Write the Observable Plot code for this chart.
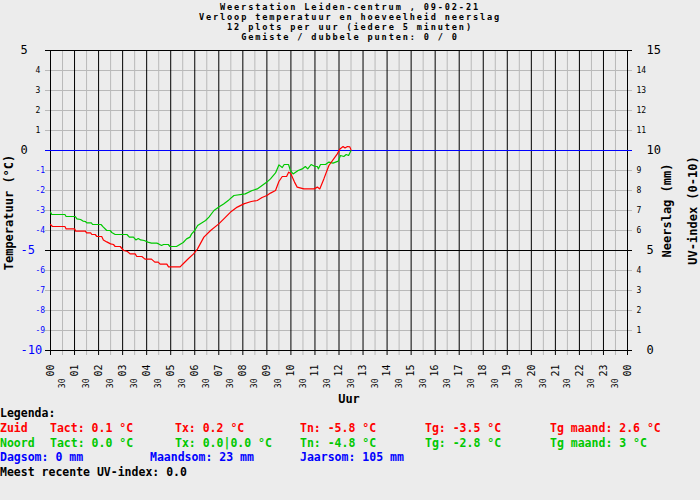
<!DOCTYPE html>
<html><head><meta charset="utf-8">
<script src="https://cdn.jsdelivr.net/npm/d3@7"></script>
<script src="https://cdn.jsdelivr.net/npm/@observablehq/plot@0.6"></script>
<style>
body{margin:0;background:#ececec;width:700px;height:500px;overflow:hidden;position:relative;font-family:"DejaVu Sans Mono",monospace;font-weight:bold;color:#000;}
#title{position:absolute;top:2px;left:0;width:700px;text-align:center;font-size:8.6px;letter-spacing:1.85px;line-height:10px;}
#chart{position:absolute;top:40px;left:0;}
#legend{position:absolute;top:406px;left:0;width:700px;font-size:11.5px;}
.row{position:relative;height:14.8px;line-height:15px;}
.row span{position:absolute;white-space:pre;top:0;}
</style>
</head><body>
<div id="title"></div>
<div id="chart"></div>
<div id="legend"></div>
<script>
// ---- Data ----
const titleLines = ["Weerstation Leiden-centrum , 09-02-21","Verloop temperatuur en hoeveelheid neerslag","12 plots per uur (iedere 5 minuten)","Gemiste / dubbele punten: 0 / 0"];

const zuidHours = [0,0.08,0.6,0.65,1.0,1.05,1.45,1.5,1.67,1.72,1.86,1.93,2.13,2.2,2.34,2.5,2.62,2.69,2.9,3.04,3.2,3.31,3.52,3.59,3.8,3.93,4.2,4.34,4.48,4.56,4.84,4.91,5.39,5.53,5.74,5.95,6.11,6.38,6.66,7.0,7.21,7.49,7.77,8.04,8.35,8.6,8.8,9.0,9.15,9.36,9.5,9.64,9.82,9.91,10.0,10.15,10.26,10.54,10.96,11.1,11.2,11.37,11.58,11.78,11.93,12.04,12.17,12.25,12.35,12.45,12.5];
const zuidTemp = [-3.7,-3.8,-3.8,-3.92,-3.92,-4.03,-4.03,-4.12,-4.12,-4.2,-4.2,-4.3,-4.3,-4.47,-4.57,-4.67,-4.7,-4.8,-4.8,-5.0,-5.05,-5.17,-5.17,-5.3,-5.3,-5.43,-5.43,-5.58,-5.58,-5.68,-5.68,-5.82,-5.82,-5.65,-5.4,-5.17,-4.93,-4.33,-4.0,-3.67,-3.42,-3.08,-2.83,-2.67,-2.55,-2.5,-2.35,-2.25,-2.13,-2.0,-1.55,-1.3,-1.3,-1.08,-1.17,-1.58,-1.83,-1.92,-1.92,-1.83,-1.92,-1.42,-0.75,-0.42,-0.17,0.08,0.2,0.13,0.2,0.18,0.03];

const noordHours = [0,0.05,0.6,0.65,1.03,1.1,1.25,1.35,1.45,1.51,1.7,1.75,2.1,2.2,2.34,2.48,2.55,2.69,3.18,3.28,3.45,3.55,3.65,3.75,3.9,4.05,4.2,4.42,4.5,4.62,4.7,4.9,4.97,5.24,5.38,5.52,5.66,5.8,5.87,6.0,6.12,6.45,6.59,6.8,7.0,7.2,7.42,7.63,8.1,8.39,8.6,9.0,9.15,9.36,9.5,9.64,9.72,9.9,9.98,10.09,10.3,10.47,10.6,10.7,10.84,11.0,11.1,11.14,11.23,11.44,11.58,11.75,11.97,12.06,12.2,12.3,12.4,12.48,12.5];
const noordTemp = [-3.08,-3.2,-3.2,-3.3,-3.3,-3.42,-3.45,-3.53,-3.55,-3.62,-3.62,-3.7,-3.7,-3.83,-4.0,-4.0,-4.1,-4.2,-4.2,-4.33,-4.33,-4.47,-4.4,-4.47,-4.5,-4.58,-4.63,-4.63,-4.67,-4.75,-4.7,-4.7,-4.8,-4.8,-4.7,-4.6,-4.42,-4.33,-4.17,-4.0,-3.75,-3.5,-3.33,-3.0,-2.83,-2.67,-2.47,-2.25,-2.17,-2.0,-1.92,-1.58,-1.42,-1.12,-0.72,-0.85,-0.7,-0.7,-1.0,-1.17,-1.0,-0.92,-0.8,-0.92,-0.7,-0.8,-0.8,-0.92,-0.7,-0.7,-0.58,-0.63,-0.53,-0.25,-0.3,-0.2,-0.25,-0.05,0.0];

const hourTicks = d3.range(0, 25);
const hourLabels = ["00","01","02","03","04","05","06","07","08","09","10","11","12","13","14","15","16","17","18","19","20","21","22","23","00"];
const halfTicks = d3.range(0.5, 24, 1);
const halfLabel = "30";
const tempMinor = [-9,-8,-7,-6,-4,-3,-2,-1,1,2,3,4];
const tempMajor = [-10,-5,0,5];
const rainMinor = [1,2,3,4,6,7,8,9,11,12,13,14];
const rainMajor = [0,5,10,15];
const rainOffset = 10; // right axis value = temperature + 10

const legendRows = [
  {color:"#000", items:[[0,"Legenda:"]]},
  {color:"#ff0000", items:[[0,"Zuid"],[50,"Tact: 0.1 °C"],[175,"Tx: 0.2 °C"],[300,"Tn: -5.8 °C"],[425,"Tg: -3.5 °C"],[550,"Tg maand: 2.6 °C"]]},
  {color:"#00c800", items:[[0,"Noord"],[50,"Tact: 0.0 °C"],[175,"Tx: 0.0|0.0 °C"],[300,"Tn: -4.8 °C"],[425,"Tg: -2.8 °C"],[550,"Tg maand: 3 °C"]]},
  {color:"#0000ff", items:[[0,"Dagsom: 0 mm"],[150,"Maandsom: 23 mm"],[300,"Jaarsom: 105 mm"]]},
  {color:"#000", items:[[0,"Meest recente UV-index: 0.0"]]}
];

// ---- Title ----
document.getElementById("title").innerHTML = titleLines.map(t => `<div>${t}</div>`).join("");

// ---- Chart ----
const zuid = zuidHours.map((h, i) => ({h, t: zuidTemp[i]}));
const noord = noordHours.map((h, i) => ({h, t: noordTemp[i]}));
const mono = "DejaVu Sans Mono";
const gray = "#b9b9b9";
const tick = {fontWeight: "normal"};

const chart = Plot.plot({
  width: 700,
  height: 365,
  marginTop: 10,
  marginBottom: 55,
  marginLeft: 50,
  marginRight: 73,
  style: {background: "transparent", overflow: "visible", fontFamily: mono},
  x: {domain: [0, 24], axis: null},
  y: {domain: [-10, 5], axis: null},
  marks: [
    Plot.ruleX(halfTicks, {x: d => d, stroke: gray, insetBottom: -5}),
    Plot.ruleY(tempMinor, {y: d => d, stroke: gray, insetLeft: -5, insetRight: -5}),
    Plot.ruleX(hourTicks, {x: d => d, stroke: "#000", insetBottom: -5}),
    Plot.ruleY([-10, -5, 5], {y: d => d, stroke: "#000", insetLeft: -5, insetRight: -5}),
    Plot.ruleY([0], {y: d => d, stroke: "#0000ff", insetLeft: -5, insetRight: -5}),
    Plot.line(noord, {x: "h", y: "t", stroke: "#00c800", strokeWidth: 1.2}),
    Plot.line(zuid, {x: "h", y: "t", stroke: "#ff0000", strokeWidth: 1.2}),
    // left axis labels
    Plot.text(tempMinor.filter(d => d >= 0), {...tick, y: d => d, text: d => String(d), frameAnchor: "left", dx: -15, textAnchor: "start", fontSize: 8, fill: "#000"}),
    Plot.text(tempMinor.filter(d => d < 0), {...tick, y: d => d, text: d => String(d), frameAnchor: "left", dx: -15, textAnchor: "start", fontSize: 8, fill: "#0000ff"}),
    Plot.text(tempMajor.filter(d => d >= 0), {...tick, y: d => d, text: d => String(d), frameAnchor: "left", dx: -30, textAnchor: "start", fontSize: 12, fill: "#000"}),
    Plot.text(tempMajor.filter(d => d < 0), {...tick, y: d => d, text: d => String(d), frameAnchor: "left", dx: -30, textAnchor: "start", fontSize: 12, fill: "#0000ff"}),
    // right axis labels
    Plot.text(rainMinor, {...tick, y: d => d - rainOffset, text: d => String(d), frameAnchor: "right", dx: 9, textAnchor: "start", fontSize: 8, fill: "#000"}),
    Plot.text(rainMajor, {...tick, y: d => d - rainOffset, text: d => String(d), frameAnchor: "right", dx: 19, textAnchor: "start", fontSize: 12, fill: "#000"}),
    // x axis labels
    Plot.text(hourTicks, {...tick, x: d => d, text: (d, i) => hourLabels[i], frameAnchor: "bottom", rotate: -90, textAnchor: "end", lineAnchor: "middle", dy: 14, fontSize: 10, fill: "#000"}),
    Plot.text(halfTicks, {...tick, x: d => d, text: () => halfLabel, frameAnchor: "bottom", rotate: -90, textAnchor: "end", lineAnchor: "middle", dy: 28, fontSize: 8, fill: "#000"}),
    // axis titles
    Plot.text(["Temperatuur (°C)"], {text: d => d, frameAnchor: "left", textAnchor: "middle", dx: -41, dy: 12, rotate: -90, fontSize: 12, fontWeight: "bold", fill: "#000"}),
    Plot.text(["Neerslag (mm)"], {text: d => d, frameAnchor: "right", textAnchor: "middle", dx: 40, dy: 10, rotate: -90, fontSize: 12, fontWeight: "bold", fill: "#000"}),
    Plot.text(["UV-index (0-10)"], {text: d => d, frameAnchor: "right", textAnchor: "middle", dx: 66, dy: 10, rotate: -90, fontSize: 12, fontWeight: "bold", fill: "#000"}),
    Plot.text(["Uur"], {text: d => d, frameAnchor: "bottom", textAnchor: "middle", dx: 10, dy: 52, fontSize: 12, fontWeight: "bold", fill: "#000"})
  ]
});
document.getElementById("chart").appendChild(chart);

// ---- Legend ----
document.getElementById("legend").innerHTML = legendRows.map(r =>
  `<div class="row" style="color:${r.color}">` + r.items.map(([x, t]) => `<span style="left:${x}px">${t}</span>`).join("") + `</div>`
).join("");
</script>
</body></html>
